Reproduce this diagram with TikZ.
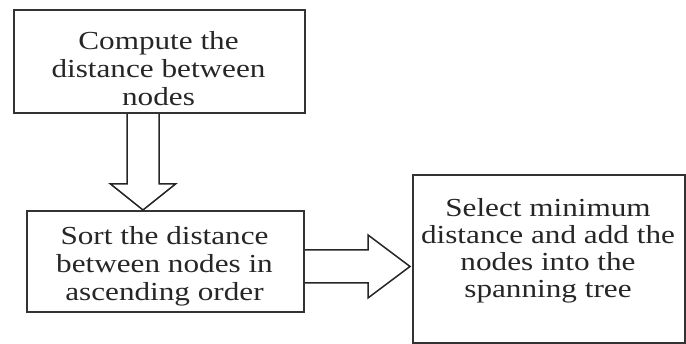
\documentclass[tikz,border=0pt]{standalone}
\usepackage{fontspec}
\setmainfont{Liberation Serif}[FakeStretch=1.2]
\usetikzlibrary{calc}
\begin{document}
\begin{tikzpicture}[x=1pt,y=-1pt,
  box/.style={draw=black!80, line width=2pt, inner sep=0pt, anchor=north west},
  arr/.style={draw=black!85, line width=1.5pt, line join=miter},
  txt/.style={align=center, font=\fontsize{26}{28}\selectfont, inner sep=0pt, anchor=base, text=black!85},
  txtb/.style={align=center, font=\fontsize{26}{27}\selectfont, inner sep=0pt, anchor=base, text=black!85}]
\useasboundingbox (0,0) rectangle (686,344);
\node[box, minimum width=291pt, minimum height=103pt] (b1) at (13,9) {};
\node[box, minimum width=277pt, minimum height=101pt] (b2) at (26,210) {};
\node[box, minimum width=272pt, minimum height=168pt] (b3) at (412,174) {};
\node[txt] (t1) at (158.5,106) {Compute the\\distance between\\nodes};
\node[txt] (t2) at (164.5,301) {Sort the distance\\between nodes in\\ascending order};
\node[txtb] (t3) at (548,298) {Select minimum\\distance and add the\\nodes into the\\spanning tree};
\coordinate (ax) at (143,0);
\coordinate (ay) at (0,266.5);
\draw[arr] ($(b1.south -| ax)+(-16,0)$) -- ($(b2.north -| ax)+(-16,-26)$)
  -- ($(b2.north -| ax)+(-32.5,-26)$) -- (b2.north -| ax)
  -- ($(b2.north -| ax)+(32.5,-26)$) -- ($(b2.north -| ax)+(16,-26)$)
  -- ($(b1.south -| ax)+(16,0)$);
\draw[arr] ($(b2.east |- ay)+(0,-16.5)$) -- ($(b3.west |- ay)+(-44,-16.5)$)
  -- ($(b3.west |- ay)+(-44,-31.5)$) -- ($(b3.west |- ay)+(-2,0)$)
  -- ($(b3.west |- ay)+(-44,31.5)$) -- ($(b3.west |- ay)+(-44,16.5)$)
  -- ($(b2.east |- ay)+(0,16.5)$);
\end{tikzpicture}
\end{document}
